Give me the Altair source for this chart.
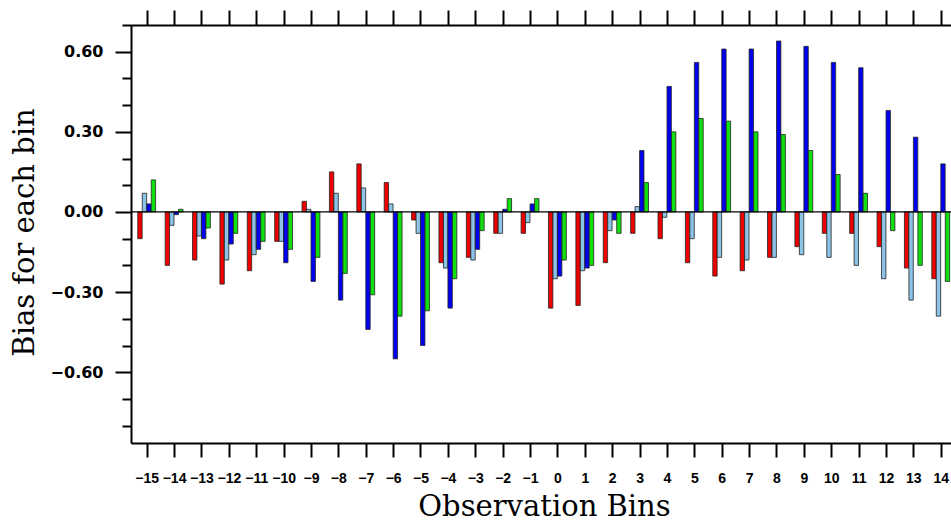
import altair as alt
import pandas as pd

# ---------------- data ----------------
bins = list(range(-15, 15))

red = [-0.10, -0.20, -0.18, -0.27, -0.22, -0.11, 0.04, 0.15, 0.18, 0.11,
       -0.03, -0.19, -0.17, -0.08, -0.08, -0.36, -0.35, -0.19, -0.08, -0.10,
       -0.19, -0.24, -0.22, -0.17, -0.13, -0.08, -0.08, -0.13, -0.21, -0.25]
lightblue = [0.07, -0.05, -0.09, -0.18, -0.16, -0.11, 0.01, 0.07, 0.09, 0.03,
             -0.08, -0.21, -0.18, -0.08, -0.04, -0.25, -0.22, -0.07, 0.02, -0.02,
             -0.10, -0.17, -0.18, -0.17, -0.16, -0.17, -0.20, -0.25, -0.33, -0.39]
blue = [0.03, -0.01, -0.10, -0.12, -0.14, -0.19, -0.26, -0.33, -0.44, -0.55,
        -0.50, -0.36, -0.14, 0.01, 0.03, -0.24, -0.21, -0.03, 0.23, 0.47,
        0.56, 0.61, 0.61, 0.64, 0.62, 0.56, 0.54, 0.38, 0.28, 0.18]
green = [0.12, 0.01, -0.06, -0.08, -0.11, -0.14, -0.17, -0.23, -0.31, -0.39,
         -0.37, -0.25, -0.07, 0.05, 0.05, -0.18, -0.20, -0.08, 0.11, 0.30,
         0.35, 0.34, 0.30, 0.29, 0.23, 0.14, 0.07, -0.07, -0.20, -0.26]

series_names = ["s1", "s2", "s3", "s4"]
series_values = [red, lightblue, blue, green]

y_major_ticks = [-0.6, -0.3, 0.0, 0.3, 0.6]
y_minor_ticks = [-0.8, -0.7, -0.5, -0.4, -0.2, -0.1,
                 0.1, 0.2, 0.4, 0.5, 0.7]

# ---------------- styling ----------------
colors = ["#ee0000", "#8cc4e8", "#0000ee", "#10e010"]
offsets = [-0.246, -0.082, 0.082, 0.246]
half_width = 0.08

rows = []
for name, vals, off in zip(series_names, series_values, offsets):
    for b, v in zip(bins, vals):
        rows.append({"bin": b, "series": name, "value": v, "off": off})
df = pd.DataFrame(rows)

xscale = alt.Scale(domain=[-15.573, 14.375], nice=False, zero=False)
yscale = alt.Scale(domain=[-0.865, 0.70], nice=False, zero=False)

TITLE_FONT = "DejaVu Serif"

x_axis_bottom = alt.Axis(
    orient="bottom", values=bins, grid=False,
    labelExpr="datum.value < 0 ? '\u2212' + abs(datum.value) : '' + datum.value",
    labelFont="Liberation Sans", labelFontSize=14, labelFontWeight="bold", labelColor="black",
    labelOverlap=False, labelFlush=False, labelPadding=14,
    tickSize=14, tickWidth=2, tickColor="black",
    domainWidth=2, domainColor="black",
    title="Observation Bins", titleFont=TITLE_FONT, titleFontSize=29,
    titleFontWeight="normal", titleColor="black",
    titleBaseline="alphabetic", titleX=413, titleY=72, titleAnchor="middle",
)

x_axis_top = alt.Axis(
    orient="top", values=bins, grid=False, labels=False,
    tickSize=15, tickWidth=2, tickColor="black",
    domainWidth=2, domainColor="black", title=None,
)

y_axis_major = alt.Axis(
    orient="left", values=y_major_ticks, grid=False,
    labelExpr="replace(format(datum.value, '.2f'), '-', '\u2212')",
    labelFont="DejaVu Sans", labelFontSize=16, labelFontWeight="bold", labelColor="black",
    labelOverlap=False, labelFlush=False, labelPadding=12,
    tickSize=16, tickWidth=2, tickColor="black",
    domainWidth=2, domainColor="black",
    title="Bias for each bin", titleFont=TITLE_FONT, titleFontSize=29,
    titleFontWeight="normal", titleColor="black",
    titleBaseline="alphabetic", titleX=-98, titleY=207, titleAngle=-90,
)

y_axis_minor = alt.Axis(
    orient="left", values=y_minor_ticks, grid=False, labels=False,
    tickSize=9, tickWidth=2, tickColor="black", domain=False, title=None,
)

bars = alt.Chart(df).transform_calculate(
    x1="datum.bin + datum.off - " + str(half_width),
    x2="datum.bin + datum.off + " + str(half_width),
).mark_bar(stroke="#222222", strokeWidth=0.8, clip=True).encode(
    x=alt.X("x1:Q", scale=xscale, axis=x_axis_bottom),
    x2="x2:Q",
    y=alt.Y("value:Q", scale=yscale, axis=y_axis_major),
    y2=alt.datum(0),
    color=alt.Color("series:N", scale=alt.Scale(domain=series_names, range=colors), legend=None),
)

zero_line = alt.Chart(pd.DataFrame({"y": [0.0]})).mark_rule(
    color="black", strokeWidth=1.3
).encode(y=alt.Y("y:Q", scale=yscale, axis=y_axis_minor))

top_axis = alt.Chart(pd.DataFrame({"bin": bins})).mark_point(opacity=0).encode(
    x=alt.X("bin:Q", scale=xscale, axis=x_axis_top),
    y=alt.value(0),
)

chart = alt.layer(bars, zero_line, top_axis).resolve_axis(
    y="independent"
).properties(
    width=820, height=418,
    autosize=alt.AutoSizeParams(type="none"),
    padding={"left": 131, "top": 25, "right": 0, "bottom": 79},
    background="white",
).configure_view(stroke=None)

chart.save("out.html", embed_options={"renderer": "svg", "actions": False})
